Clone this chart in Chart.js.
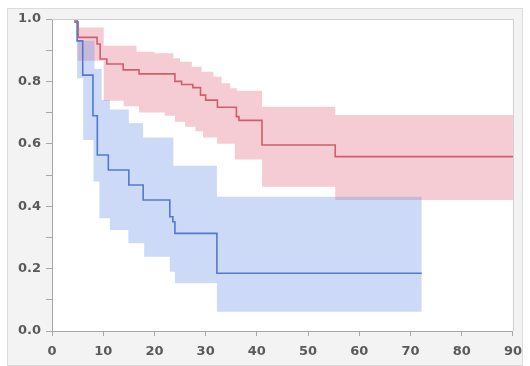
<!DOCTYPE html>
<html>
<head>
<meta charset="utf-8">
<title>Survival curves</title>
<script src="https://cdn.jsdelivr.net/npm/chart.js@4.4.1/dist/chart.umd.min.js"></script>
<style>
    html, body { margin: 0; padding: 0; background: #fff; }
    #panel {
        position: absolute; left: 7px; top: 8px; width: 516px; height: 358px;
        background: #f3f3f3; border: 1px solid #dcdcdc; box-sizing: border-box;
    }
    #wrap { position: absolute; left: 0; top: 0; width: 530px; height: 366px; }
</style>
</head>
<body>
<div id="panel"></div>
<div id="wrap"><canvas id="myChart"></canvas></div>
<script>
// time axis ticks (months) and survival axis ticks
var xTicks = [0, 10, 20, 30, 40, 50, 60, 70, 80, 90];
var yTicks = [0, 0.2, 0.4, 0.6, 0.8, 1.0];

// group 1 (red) - estimate and confidence band
var redTime = [4, 4.5, 5.1, 8.8, 9.4, 10.7, 13.9, 17, 24, 25.3, 27.5, 29, 30, 32.3, 36, 36.5, 41, 55.3, 90];
var redSurv = [1, 0.99, 0.941, 0.92, 0.872, 0.856, 0.837, 0.824, 0.80, 0.79, 0.78, 0.756, 0.74, 0.717, 0.687, 0.675, 0.596, 0.559, 0.559];
var redUpperTime = [4, 5, 10.1, 16.5, 20, 23.7, 25, 27.3, 29.2, 31.5, 33.1, 34.8, 36.1, 41, 55.3, 90];
var redUpper = [1, 0.973, 0.914, 0.895, 0.89, 0.874, 0.863, 0.847, 0.831, 0.815, 0.794, 0.778, 0.77, 0.719, 0.692, 0.692];
var redLowerTime = [4, 5, 10.1, 14, 17, 22, 24, 26, 28, 29.5, 32.2, 35.7, 41, 55.3, 90];
var redLower = [1, 0.866, 0.738, 0.72, 0.70, 0.69, 0.671, 0.655, 0.64, 0.62, 0.60, 0.55, 0.462, 0.42, 0.42];

// group 2 (blue) - estimate and confidence band
var blueTime = [4, 4.9, 6.0, 8.0, 8.85, 11, 15, 17.8, 23, 23.6, 24, 32.2, 72.2];
var blueSurv = [1, 0.93, 0.82, 0.69, 0.564, 0.516, 0.468, 0.42, 0.366, 0.35, 0.313, 0.185, 0.185];
var blueUpperTime = [4, 4.9, 8.3, 9.7, 11.3, 15, 17.8, 23.7, 32.2, 72.2];
var blueUpper = [1, 0.93, 0.84, 0.74, 0.71, 0.666, 0.62, 0.53, 0.43, 0.43];
var blueLowerTime = [4, 4.9, 6.1, 8.1, 9.25, 11.3, 14.9, 18, 23, 24, 32.2, 72.2];
var blueLower = [1, 0.81, 0.612, 0.479, 0.361, 0.324, 0.281, 0.238, 0.19, 0.153, 0.062, 0.062];

function pts(xs, ys) {
    return xs.map(function (x, i) { return { x: x, y: ys[i] }; });
}

// white plot area + light frame on top/right
var plotFrame = {
    id: 'plotFrame',
    beforeDraw: function (chart) {
        var a = chart.chartArea, c = chart.ctx;
        c.save();
        c.fillStyle = '#ffffff';
        c.fillRect(a.left, a.top, a.right - a.left, a.bottom - a.top);
        c.restore();
    },
    afterDraw: function (chart) {
        var a = chart.chartArea, c = chart.ctx;
        c.save();
        c.strokeStyle = '#cfcfcf';
        c.lineWidth = 1;
        c.beginPath();
        c.moveTo(a.left, a.top + 0.5);
        c.lineTo(a.right + 0.5, a.top + 0.5);
        c.lineTo(a.right + 0.5, a.bottom);
        c.stroke();
        c.restore();
    }
};

var band = { pointRadius: 0, borderWidth: 0, stepped: true, tension: 0 };

document.addEventListener('DOMContentLoaded', function () {
    var ctx = document.getElementById('myChart').getContext('2d');
    var myChart = new Chart(ctx, {
        type: 'line',
        data: {
            datasets: [
                Object.assign({ label: 'red upper', data: pts(redUpperTime, redUpper), fill: 1,
                    backgroundColor: 'rgba(225, 110, 130, 0.35)', order: 4 }, band),
                Object.assign({ label: 'red lower', data: pts(redLowerTime, redLower), fill: false, order: 4 }, band),
                Object.assign({ label: 'blue upper', data: pts(blueUpperTime, blueUpper), fill: 3,
                    backgroundColor: 'rgba(110, 150, 235, 0.35)', order: 3 }, band),
                Object.assign({ label: 'blue lower', data: pts(blueLowerTime, blueLower), fill: false, order: 3 }, band),
                {
                    label: 'red', data: pts(redTime, redSurv), stepped: true, fill: false,
                    borderColor: 'rgb(205, 95, 110)', borderWidth: 1.6, pointRadius: 0, order: 1
                },
                {
                    label: 'blue', data: pts(blueTime, blueSurv), stepped: true, fill: false,
                    borderColor: 'rgb(85, 120, 205)', borderWidth: 1.6, pointRadius: 0, order: 0
                }
            ]
        },
        options: {
            responsive: true,
            maintainAspectRatio: false,
            animation: false,
            layout: { padding: { left: 8, right: 17, top: 19, bottom: 0 } },
            plugins: { legend: { display: false }, tooltip: { enabled: false } },
            scales: {
                x: {
                    type: 'linear', min: 0, max: 90,
                    afterBuildTicks: function (s) { s.ticks = xTicks.map(function (v) { return { value: v }; }); },
                    afterFit: function (s) { s.height = 35; },
                    grid: { drawOnChartArea: false, tickLength: 5, tickColor: '#a8a8a8' },
                    border: { color: '#a8a8a8', width: 1 },
                    ticks: { padding: 8, color: '#5a5a5a', font: { family: 'DejaVu Sans', size: 13, weight: 'bold' } }
                },
                y: {
                    min: 0, max: 1,
                    ticks: {
                        stepSize: 0.1, padding: 5, color: '#5a5a5a',
                        font: { family: 'DejaVu Sans', size: 13, weight: 'bold' },
                        callback: function (v) {
                            var hit = yTicks.some(function (t) { return Math.abs(t - v) < 1e-6; });
                            return hit ? v.toFixed(1) : '';
                        }
                    },
                    afterFit: function (s) { s.width = 44; },
                    grid: { drawOnChartArea: false, tickLength: 6, tickColor: '#a8a8a8' },
                    border: { color: '#a8a8a8', width: 1 }
                }
            }
        },
        plugins: [plotFrame]
    });
});
</script>
</body>
</html>
